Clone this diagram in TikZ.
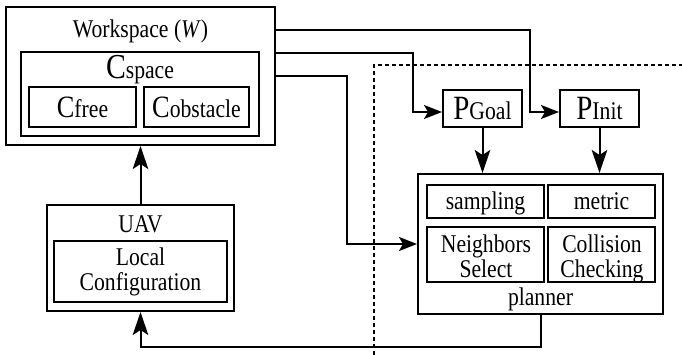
\documentclass[tikz,border=0pt]{standalone}
\usepackage{fontspec}
\setmainfont{Liberation Serif}[FakeStretch=0.85]
\usetikzlibrary{arrows.meta}

\begin{document}
\begin{tikzpicture}[x=1pt,y=-1pt,
  box/.style={draw, line width=2pt, rectangle, inner sep=0pt},
  txt/.style={font=\fontsize{25.5}{25}\selectfont, inner sep=0pt, align=center, anchor=base},
  wire/.style={line width=2pt},
  harr/.style={wire, -{Stealth[length=18pt,width=14pt,inset=4pt]}},
  varr/.style={wire, -{Stealth[length=23pt,width=15.5pt,inset=5pt]}},
  fence/.style={line width=2pt, dash pattern=on 4pt off 3pt}]
\useasboundingbox (0,0) rectangle (682,355);

% workspace and configuration space
\node[box, minimum width=269pt, minimum height=138pt] (W) at (140.5,76) {};
\node[txt] (Wlab) at (140.5,38) {Workspace (\textit{W})};
\node[box, minimum width=238pt, minimum height=84pt] (Cs) at (140,94) {};
\node[txt] (Cslab) at (140,79) {{\fontsize{35}{35}\selectfont C}space};
\node[box, minimum width=107pt, minimum height=40pt] (Cfree) at (82.5,107) {};
\node[txt] (Cfreelab) at (82.5,118) {{\fontsize{31}{31}\selectfont C}free};
\node[box, minimum width=105pt, minimum height=40pt] (Cobs) at (196.5,107) {};
\node[txt] (Cobslab) at (196.5,118) {{\fontsize{31}{31}\selectfont C}obstacle};

% goal and start
\node[box, minimum width=79pt, minimum height=37pt] (PGoal) at (482.5,108.5) {};
\node[txt] (PGoallab) at (482.5,120) {{\fontsize{34}{34}\selectfont P}Goal};
\node[box, minimum width=79pt, minimum height=37pt] (PInit) at (599.5,108.5) {};
\node[txt] (PInitlab) at (599.5,120) {{\fontsize{34}{34}\selectfont P}Init};

% planner
\node[box, minimum width=245pt, minimum height=140pt] (planner) at (540.5,244) {};
\node[txt] (plab) at (540.5,305) {planner};
\node[box, minimum width=117pt, minimum height=33pt] (samp) at (485.5,201.5) {};
\node[txt] (samplab) at (485.5,210) {sampling};
\node[box, minimum width=107pt, minimum height=33pt] (metric) at (601.5,201.5) {};
\node[txt] (metriclab) at (601.5,210) {metric};
\node[box, minimum width=117pt, minimum height=55pt] (neigh) at (485.5,254.5) {};
\node[txt, anchor=north] (neighlab) at (486,234.3) {Neighbors\\Select};
\node[box, minimum width=107pt, minimum height=55pt] (coll) at (601.5,254.5) {};
\node[txt, anchor=north] (colllab) at (602,234.3) {Collision\\Checking};

% vehicle
\node[box, minimum width=187pt, minimum height=106pt] (UAV) at (140.5,258) {};
\node[txt] (ulab) at (140.5,233) {UAV};
\node[box, minimum width=173pt, minimum height=61pt] (local) at (140.5,271.5) {};
\node[txt, anchor=north] (llab) at (140.5,247.6) {Local\\Configuration};

% boundary of the planning side
\coordinate (f1) at (374,355);
\coordinate (f2) at (374,65);
\coordinate (f3) at (682,65);
\draw[fence] (f1) -- (f2) -- (f3);

% bend points of the connectors
\coordinate (bInit) at (530,0);
\coordinate (bGoal) at (413,0);
\coordinate (bPlan) at (347,0);
\coordinate (bLow) at (0,347);
\coordinate (inInit) at ([yshift=-3.5pt]PInit.west);
\coordinate (inGoal) at ([yshift=-3.5pt]PGoal.west);

\draw[harr] ([yshift=46pt]W.east) -| (bInit |- inInit) -- (inInit);
\draw[harr] ([yshift=23pt]W.east) -| (bGoal |- inGoal) -- (inGoal);
\draw[harr] (W.east) -| (bPlan |- planner.west) -- (planner.west);
\draw[varr] (PGoal.south) -- (PGoal.south |- planner.north);
\draw[varr] (PInit.south) -- (PInit.south |- planner.north);
\draw[varr] (planner.south) -- (planner.south |- bLow) -| (UAV.south);
\draw[varr] (UAV.north) -- (W.south);
\end{tikzpicture}
\end{document}
